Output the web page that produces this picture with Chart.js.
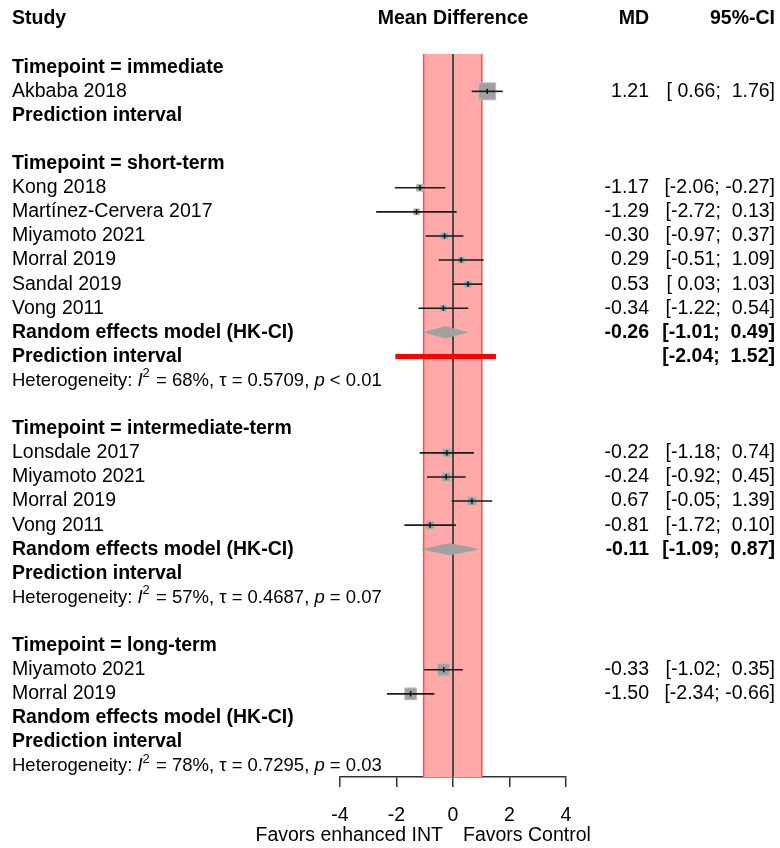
<!DOCTYPE html>
<html>
<head>
<meta charset="utf-8">
<script src="https://cdn.jsdelivr.net/npm/chart.js@4.4.1/dist/chart.umd.min.js"></script>
<style>
  html,body{margin:0;padding:0;background:#fff;}
  #wrap{width:780px;height:848px;position:relative;}
</style>
</head>
<body>
<div id="wrap"><canvas id="forest"></canvas></div>
<script>
// -------- DATA ----------
const studies    = ['Akbaba 2018','Kong 2018','Martínez-Cervera 2017','Miyamoto 2021','Morral 2019','Sandal 2019','Vong 2011',
                    'Lonsdale 2017','Miyamoto 2021','Morral 2019','Vong 2011','Miyamoto 2021','Morral 2019'];
const studyRows  = [3,7,8,9,10,11,12,18,19,20,21,27,28];
const md         = [1.21,-1.17,-1.29,-0.30,0.29,0.53,-0.34,-0.22,-0.24,0.67,-0.81,-0.33,-1.50];
const ciLow      = [0.66,-2.06,-2.72,-0.97,-0.51,0.03,-1.22,-1.18,-0.92,-0.05,-1.72,-1.02,-2.34];
const ciHigh     = [1.76,-0.27,0.13,0.37,1.09,1.03,0.54,0.74,0.45,1.39,0.10,0.35,-0.66];
const weights    = [100,16,12,19,17,19,17,24,27,27,22,52,48];   // % within subgroup

const subgroups    = ['Timepoint = immediate','Timepoint = short-term','Timepoint = intermediate-term','Timepoint = long-term'];
const subgroupRows = [2,6,17,26];

const poolRows = [13,22,29];
const poolMd   = [-0.26,-0.11,null];
const poolLow  = [-1.01,-1.09,null];
const poolHigh = [0.49,0.87,null];

const piRows = [4,14,23,30];
const piLow  = [null,-2.04,null,null];
const piHigh = [null,1.52,null,null];

const hetRows = [15,24,31];
const hetI2   = ['68%','57%','78%'];
const hetTau  = ['0.5709','0.4687','0.7295'];
const hetP    = ['< 0.01','= 0.07','= 0.03'];

const xTicks = [-4,-2,0,2,4];
const band   = [-1.04,1.02];          // shaded region
const rowMin = 1.45, rowMax = 31.45;  // visible row range of the plot panel

// -------- LOOKS ----------
const FONT   = '"Liberation Sans", Arial, sans-serif';
const FS     = 19.5;
const GREY   = '#a0a0a0';
const colStudy = 12, colMd = 649, colCi = 775;

const f2  = v => v.toFixed(2);
const pad = v => (v >= 0 ? ' ' : '') + f2(v);
const ciText = (lo,hi) => '[' + pad(lo) + '; ' + pad(hi) + ']';

// -------- PLUGINS ----------
const bandLayer = {
  id:'bandLayer',
  beforeDatasetsDraw(chart){
    const {ctx, chartArea:a, scales:{x}} = chart;
    const l = x.getPixelForValue(band[0]), r = x.getPixelForValue(band[1]);
    ctx.save();
    ctx.fillStyle = '#ffa8a8';
    ctx.fillRect(l, a.top, r-l, a.bottom-a.top);
    ctx.strokeStyle = '#ff4d4d';
    ctx.lineWidth = 1.5;
    ctx.beginPath();
    ctx.moveTo(l, a.top); ctx.lineTo(l, a.bottom);
    ctx.moveTo(r, a.top); ctx.lineTo(r, a.bottom);
    ctx.stroke();
    ctx.restore();
  }
};

const textLayer = {
  id:'textLayer',
  afterDraw(chart){
    const {ctx, scales:{x,y}} = chart;
    const Y = r => y.getPixelForValue(r);
    const reg = FS + 'px ' + FONT, bold = 'bold ' + FS + 'px ' + FONT;
    const put = (t, px, py, align, font) => {
      ctx.font = font; ctx.textAlign = align; ctx.fillText(t, px, py);
    };
    ctx.save();
    ctx.fillStyle = '#000';
    ctx.textBaseline = 'middle';

    // header
    put('Study', colStudy, Y(0), 'left', bold);
    put('Mean Difference', x.getPixelForValue(0), Y(0), 'center', bold);
    put('MD', colMd, Y(0), 'right', bold);
    put('95%-CI', colCi, Y(0), 'right', bold);

    subgroups.forEach((s,i)=> put(s, colStudy, Y(subgroupRows[i]), 'left', bold));

    studies.forEach((s,i)=>{
      const py = Y(studyRows[i]);
      put(s, colStudy, py, 'left', reg);
      put(f2(md[i]), colMd, py, 'right', reg);
      put(ciText(ciLow[i], ciHigh[i]), colCi, py, 'right', reg);
    });

    poolRows.forEach((r,i)=>{
      put('Random effects model (HK-CI)', colStudy, Y(r), 'left', bold);
      if (poolMd[i] !== null){
        put(f2(poolMd[i]), colMd, Y(r), 'right', bold);
        put(ciText(poolLow[i], poolHigh[i]), colCi, Y(r), 'right', bold);
      }
    });

    piRows.forEach((r,i)=>{
      put('Prediction interval', colStudy, Y(r), 'left', bold);
      if (piLow[i] !== null) put(ciText(piLow[i], piHigh[i]), colCi, Y(r), 'right', bold);
    });

    // heterogeneity lines, with italic I / p and superscript 2
    const hs = FS - 1;
    hetRows.forEach((r,i)=>{
      const py = Y(r);
      const parts = [
        ['Heterogeneity: ', hs+'px '+FONT, 0],
        ['I', 'italic '+hs+'px '+FONT, 0],
        ['2', (hs*0.7)+'px '+FONT, -7],
        [' = '+hetI2[i]+', \u03c4 = '+hetTau[i]+', ', hs+'px '+FONT, 0],
        ['p', 'italic '+hs+'px '+FONT, 0],
        [' '+hetP[i], hs+'px '+FONT, 0]
      ];
      let px = colStudy;
      ctx.textAlign = 'left';
      parts.forEach(([t,f,dy])=>{
        ctx.font = f;
        ctx.fillText(t, px, py+dy);
        px += ctx.measureText(t).width + (dy ? 1 : 0);
      });
    });

    // direction labels under the axis
    const z = x.getPixelForValue(0), by = x.bottom - 12;
    put('Favors enhanced INT', z - 10, by, 'right', reg);
    put('Favors Control', z + 10, by, 'left', reg);
    ctx.restore();
  }
};

// -------- DATASETS ----------
const squares = {
  type:'scatter',
  data: md.map((v,i)=>({x:v, y:studyRows[i]})),
  pointStyle:'rect',
  pointRadius: weights.map(w => 1.7*Math.sqrt(w)/Math.SQRT2),
  backgroundColor: GREY,
  borderColor:'#bdbdbd',
  borderWidth:1,
  order:4
};

const ciBars = {
  type:'bar',
  indexAxis:'y',
  grouped:false,
  data: md.map((v,i)=>({x:[ciLow[i], ciHigh[i]], y:studyRows[i]})),
  backgroundColor:'#1a1a1a',
  maxBarThickness:1.6,
  order:3
};

const ticksIn = {
  type:'scatter',
  data: md.map((v,i)=>({x:v, y:studyRows[i]})),
  pointStyle:'line',
  rotation:90,
  pointRadius:2.6,
  borderColor:'#111',
  borderWidth:1.5,
  order:2
};

const zeroLine = {
  type:'line',
  data:[{x:0,y:rowMin},{x:0,y:rowMax}],
  borderColor:'#4a4a4a',
  borderWidth:2,
  pointRadius:0,
  order:6
};

const diamonds = poolRows.map((r,i)=> poolMd[i] === null ? null : ({
  type:'line',
  data:[{x:poolLow[i],y:r},{x:poolMd[i],y:r-0.23},{x:poolHigh[i],y:r},{x:poolMd[i],y:r+0.23},{x:poolLow[i],y:r}],
  fill:'shape',
  backgroundColor:GREY,
  borderColor:GREY,
  borderWidth:1,
  pointRadius:0,
  tension:0,
  order:1
})).filter(Boolean);

const piBars = {
  type:'bar',
  indexAxis:'y',
  grouped:false,
  data: piRows.map((r,i)=> piLow[i] === null ? null : ({x:[piLow[i], piHigh[i]], y:r})).filter(Boolean),
  backgroundColor:'#ff0000',
  maxBarThickness:5,
  order:0
};

new Chart(document.getElementById('forest').getContext('2d'), {
  type:'scatter',
  data:{ datasets:[zeroLine, squares, ciBars, ticksIn, ...diamonds, piBars] },
  options:{
    responsive:true,
    maintainAspectRatio:false,
    animation:false,
    events:[],
    layout:{ padding:{left:340, right:214, top:54, bottom:0} },
    plugins:{ legend:{display:false}, tooltip:{enabled:false} },
    scales:{
      x:{
        type:'linear', min:-4, max:4, offset:false,
        afterBuildTicks: s => { s.ticks = xTicks.map(v=>({value:v})); },
        afterFit: s => { s.height = 71; },
        grid:{ drawOnChartArea:false, drawTicks:true, tickLength:10, color:'#333', lineWidth:1.5, offset:false },
        border:{ display:true, color:'#333', width:1.5 },
        ticks:{ color:'#000', padding:17, font:{family:FONT, size:FS} }
      },
      y:{
        type:'linear', min:rowMin, max:rowMax, reverse:true, display:false,
        offset:false, grid:{offset:false}
      }
    }
  },
  plugins:[bandLayer, textLayer]
});
</script>
</body>
</html>
